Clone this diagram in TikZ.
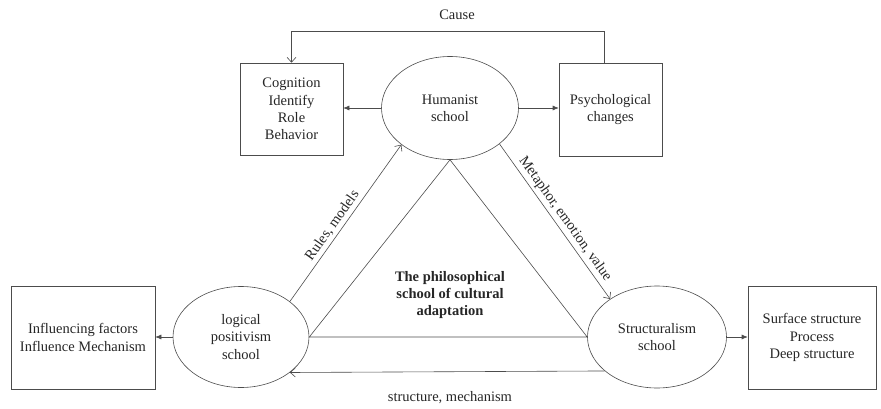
\documentclass[tikz,border=0pt]{standalone}
\usepackage{fontspec}
\setmainfont{Liberation Serif}
\usetikzlibrary{shapes.geometric,arrows.meta}
\begin{document}
\begin{tikzpicture}[x=1pt,y=1pt,
  every node/.style={font=\fontsize{14.5}{17.3}\selectfont, text=black!85},
  ln/.style={draw=black!70, line width=0.6pt},
  school/.style={ln, ellipse, inner sep=0pt, align=center},
  infobox/.style={ln, rectangle, inner sep=0pt, align=center},
  fa/.style={ln, -{Latex[length=6pt,width=5pt]}},
  oa/.style={ln, -{Straight Barb[length=5pt,width=9pt]}},
  lbl/.style={inner sep=1pt},
  slbl/.style={inner sep=3pt, sloped, above}
]
\useasboundingbox (0,0) rectangle (881,408);

% schools
\node[school, minimum width=137, minimum height=103] (hum) at (450,300) {Humanist\\school};
\node[school, minimum width=136, minimum height=101] (log) at (241,71) {logical\\positivism\\school};
\node[school, minimum width=139, minimum height=102] (str) at (657,71) {Structuralism\\school};

% boxes
\node[infobox, minimum width=103, minimum height=92] (cog) at (291.5,299) {Cognition\\Identify\\Role\\Behavior};
\node[infobox, minimum width=103, minimum height=93] (psy) at (610.5,298.5) {Psychological\\changes};
\node[infobox, minimum width=144, minimum height=103] (inf) at (83,70.5) {Influencing factors\\Influence Mechanism};
\node[infobox, minimum width=128, minimum height=103] (sur) at (812,70.5) {Surface structure\\Process\\Deep structure};

% outward arrows
\draw[fa] (hum.west) -- (cog.east |- hum.west);
\draw[fa] (hum.east) -- (psy.west |- hum.east);
\draw[fa] (log.west) -- (inf.east |- log.west);
\draw[fa] (str.east) -- (sur.west |- str.east);

% feedback loop
\coordinate (cs) at ([xshift=-6.5]psy.north);
\draw[oa] (cs) |- ++(0,31) -| (cog.north);
\node[lbl] (cause) at (457,393) {Cause};

% central triangle
\draw[ln] (log.east) -- (hum.south) -- (str.west) -- cycle;
\node[font=\fontsize{14.5}{17}\selectfont\bfseries, align=center] (core) at (450,113)
  {The philosophical\\school of cultural\\adaptation};

% relations between schools
\draw[oa] (log.36) -- node[slbl, pos=0.45] (rm) {Rules, models} (hum.217.6);
\draw[oa] (hum.324.6) -- node[slbl, pos=0.52] (mev) {Metaphor, emotion, value} (str.141.5);
\draw[oa] (str.213) -- (log.324);
\node[lbl] (sm) at (450,10) {structure, mechanism};
\end{tikzpicture}
\end{document}
